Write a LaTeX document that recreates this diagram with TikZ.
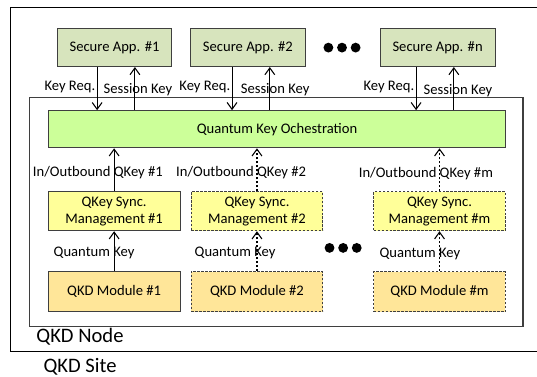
\documentclass[tikz,border=0pt]{standalone}
\usepackage{fontspec}
\setmainfont{Carlito}
\usetikzlibrary{arrows.meta}

\definecolor{appgreen}{HTML}{D7E4BD}
\definecolor{orchlime}{HTML}{CCFF99}
\definecolor{syncyellow}{HTML}{FFFF99}
\definecolor{modorange}{HTML}{FFE699}
\definecolor{edgegray}{HTML}{3F3F3F}

\tikzset{
  box/.style={draw=edgegray, line width=0.8pt, inner sep=0pt, align=center,
    font=\fontsize{11}{13}\selectfont},
  appbox/.style={box, fill=appgreen, minimum width=3.04cm, minimum height=1.0cm},
  orchbox/.style={box, fill=orchlime, minimum width=12.07cm, minimum height=0.98cm},
  syncbox/.style={box, fill=syncyellow, minimum width=3.49cm, minimum height=1.03cm},
  modbox/.style={box, fill=modorange, minimum width=3.49cm, minimum height=1.06cm},
  dashbox/.style={dash pattern=on 2pt off 1pt},
  lbl/.style={inner sep=1pt, font=\fontsize{11}{13}\selectfont},
  big/.style={inner sep=0pt, anchor=west, font=\fontsize{15.5}{18}\selectfont},
}

\begin{document}
\begin{tikzpicture}[>={Straight Barb[length=1.8mm,width=2.6mm]}, line width=0.8pt]
    \useasboundingbox (0,0) rectangle (14.21,9.97);

    % Site and node frames
    \draw (0.28,0.66) rectangle (14.6,9.76);
    \draw[edgegray] (0.77,1.32) rectangle (13.84,7.38);
    \node[big] (site) at (1.14,0.26) {QKD Site};
    \node[big] (qkdnode) at (0.95,1.06) {QKD Node};

    % Applications
    \node[appbox] (app1) at (3.03,8.71) {Secure App. \#1};
    \node[appbox] (app2) at (6.56,8.71) {Secure App. \#2};
    \node[appbox] (appn) at (11.58,8.71) {Secure App. \#n};
    \foreach \i in {-1,0,1}
        \fill (9.05+\i*0.36,8.71) circle (0.13);

    % Orchestration
    \node[orchbox] (qko) at (7.33,6.55) {Quantum Key Ochestration};

    % Sync managers and modules
    \node[syncbox] (sync1) at (3.02,4.38) {QKey Sync.\\Management \#1};
    \node[syncbox, dashbox] (sync2) at (6.80,4.38) {QKey Sync.\\Management \#2};
    \node[syncbox, dashbox] (syncm) at (11.63,4.38) {QKey Sync.\\Management \#m};
    \node[modbox] (qkd1) at (3.02,2.25) {QKD Module \#1};
    \node[modbox, dashbox] (qkd2) at (6.80,2.25) {QKD Module \#2};
    \node[modbox, dashbox] (qkdm) at (11.63,2.25) {QKD Module \#m};
    \foreach \i in {-1,0,1}
        \fill (9.08+\i*0.36,3.41) circle (0.13);

    % Key requests and session keys
    \draw[->] ([xshift=-0.46cm]app1.south) -- ([xshift=-0.46cm]app1.south |- qko.north);
    \draw[->] ([xshift=0.54cm]app1.south |- qko.north) -- ([xshift=0.54cm]app1.south);
    \draw[->] ([xshift=-0.42cm]app2.south) -- ([xshift=-0.42cm]app2.south |- qko.north);
    \draw[->] ([xshift=0.58cm]app2.south |- qko.north) -- ([xshift=0.58cm]app2.south);
    \draw[->] ([xshift=-0.57cm]appn.south) -- ([xshift=-0.57cm]appn.south |- qko.north);
    \draw[->] ([xshift=0.43cm]appn.south |- qko.north) -- ([xshift=0.43cm]appn.south);
    \node[lbl] (req1) at (1.85,7.67) {Key Req.};
    \node[lbl] (ses1) at (3.65,7.59) {Session Key};
    \node[lbl] (req2) at (5.42,7.67) {Key Req.};
    \node[lbl] (ses2) at (7.28,7.59) {Session Key};
    \node[lbl] (reqn) at (10.29,7.67) {Key Req.};
    \node[lbl] (sesn) at (12.12,7.57) {Session Key};

    % QKey flows
    \draw[->] (sync1.north) -- (sync1.north |- qko.south);
    \draw[->, dashbox] (sync2.north) -- (sync2.north |- qko.south);
    \draw[->, dashbox] (syncm.north) -- (syncm.north |- qko.south);
    \draw[->] (qkd1.north) -- (sync1.south);
    \draw[->, dashbox] (qkd2.north) -- (sync2.south);
    \draw[->, dashbox] (qkdm.north) -- (syncm.south);
    \node[lbl] (io1) at (2.59,5.40) {In/Outbound QKey \#1};
    \node[lbl] (io2) at (6.38,5.40) {In/Outbound QKey \#2};
    \node[lbl] (iom) at (11.27,5.37) {In/Outbound QKey \#m};
    \node[lbl] (qk1) at (2.49,3.28) {Quantum Key};
    \node[lbl] (qk2) at (6.22,3.28) {Quantum Key};
    \node[lbl] (qkm) at (11.11,3.25) {Quantum Key};
\end{tikzpicture}
\end{document}
